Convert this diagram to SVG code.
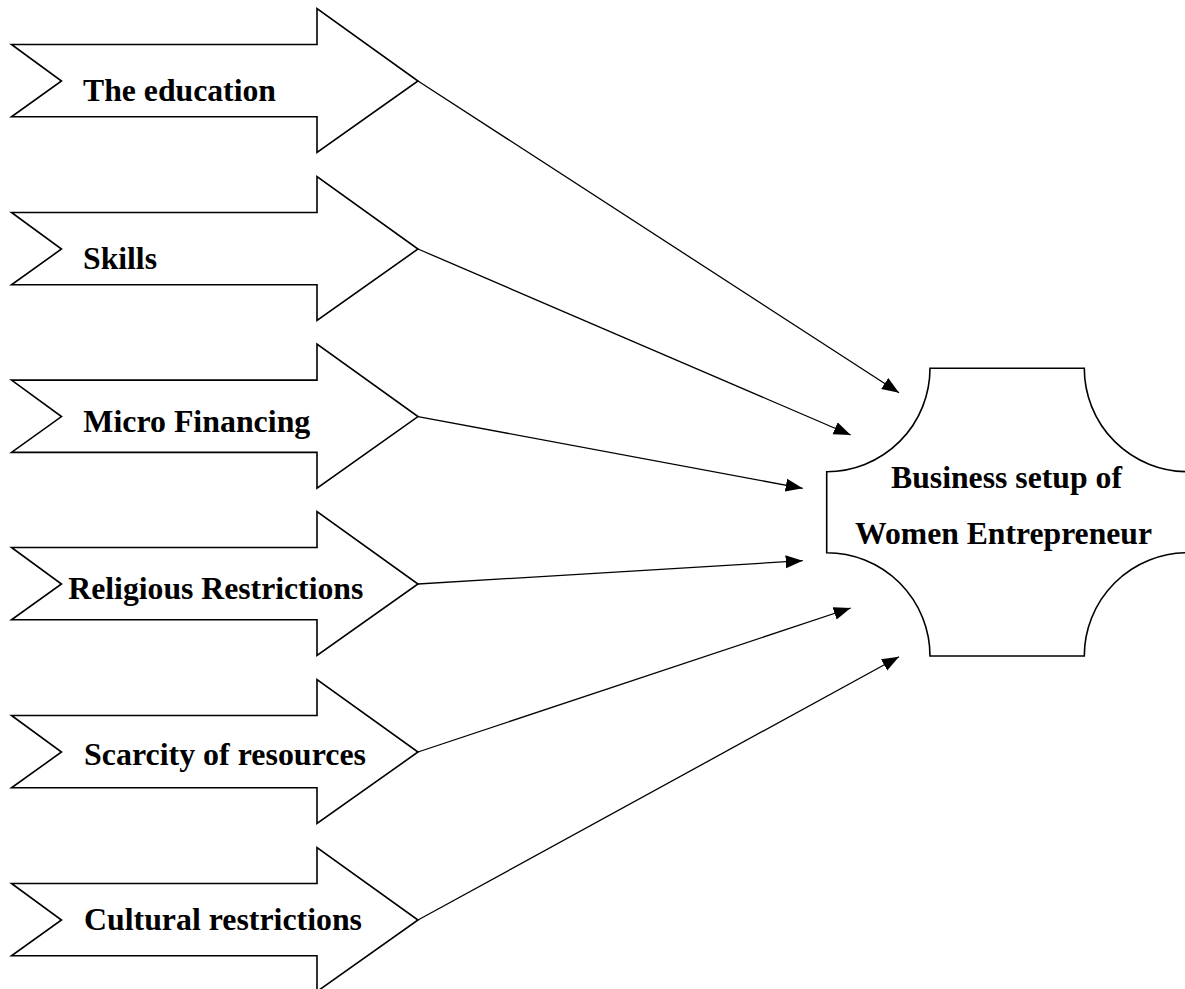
<svg xmlns="http://www.w3.org/2000/svg" width="1185" height="989" viewBox="0 0 1185 989">
<style>
.shape{fill:#fff;stroke:#000;stroke-width:1.6;stroke-linejoin:miter}
.lbl{font-family:"Liberation Serif","Times New Roman",serif;font-weight:bold;font-size:32px;fill:#000}
.conn{stroke:#000;stroke-width:1.3;fill:none}
</style>
<defs>
<path id="notched" d="M11.5,-36.5 L317,-36.5 L317,-72.5 L418,0 L317,71.5 L317,35.8 L11.5,35.8 L61.5,0 Z"/>
<marker id="ah" markerUnits="userSpaceOnUse" markerWidth="18" markerHeight="14" refX="17" refY="6.5" orient="auto">
<path d="M0,0 L17,6.5 L0,13 Z" fill="#000"/>
</marker>
</defs>
<rect width="1185" height="989" fill="#fff"/>
<g id="connectors">
<line class="conn" x1="418" y1="81" x2="899" y2="392.7" marker-end="url(#ah)"/>
<line class="conn" x1="418" y1="249" x2="850.7" y2="435" marker-end="url(#ah)"/>
<line class="conn" x1="418" y1="416.6" x2="802.7" y2="488.3" marker-end="url(#ah)"/>
<line class="conn" x1="418" y1="584" x2="802.7" y2="560.7" marker-end="url(#ah)"/>
<line class="conn" x1="418" y1="752" x2="850.7" y2="608" marker-end="url(#ah)"/>
<line class="conn" x1="418" y1="920" x2="899" y2="656.7" marker-end="url(#ah)"/>
</g>
<g id="education">
<use href="#notched" class="shape" transform="translate(0,81)"/>
<text class="lbl" x="83" y="100.7" textLength="193" lengthAdjust="spacingAndGlyphs">The education</text>
</g>
<g id="skills">
<use href="#notched" class="shape" transform="translate(0,249)"/>
<text class="lbl" x="83" y="269" textLength="74" lengthAdjust="spacingAndGlyphs">Skills</text>
</g>
<g id="microfinancing">
<use href="#notched" class="shape" transform="translate(0,416.6)"/>
<text class="lbl" x="83.3" y="432.3" textLength="227" lengthAdjust="spacingAndGlyphs">Micro Financing</text>
</g>
<g id="religious">
<use href="#notched" class="shape" transform="translate(0,584)"/>
<text class="lbl" x="68.3" y="599" textLength="295" lengthAdjust="spacingAndGlyphs">Religious Restrictions</text>
</g>
<g id="scarcity">
<use href="#notched" class="shape" transform="translate(0,752)"/>
<text class="lbl" x="84" y="765" textLength="282" lengthAdjust="spacingAndGlyphs">Scarcity of resources</text>
</g>
<g id="cultural">
<use href="#notched" class="shape" transform="translate(0,920)"/>
<text class="lbl" x="84" y="930" textLength="278" lengthAdjust="spacingAndGlyphs">Cultural restrictions</text>
</g>
<g id="business">
<path class="shape" d="M930,368.3 L1084.3,368.3 A103.3,103.4 0 0 0 1187.6,471.7 L1187.6,552.7 A103.3,103.3 0 0 0 1084.3,656 L930,656 A103.3,103.3 0 0 0 826.7,552.7 L826.7,471.7 A103.3,103.4 0 0 0 930,368.3 Z"/>
<text class="lbl" x="891" y="488.3" textLength="231" lengthAdjust="spacingAndGlyphs">Business setup of</text>
<text class="lbl" x="855" y="544.3" textLength="297" lengthAdjust="spacingAndGlyphs">Women Entrepreneur</text>
</g>
</svg>
